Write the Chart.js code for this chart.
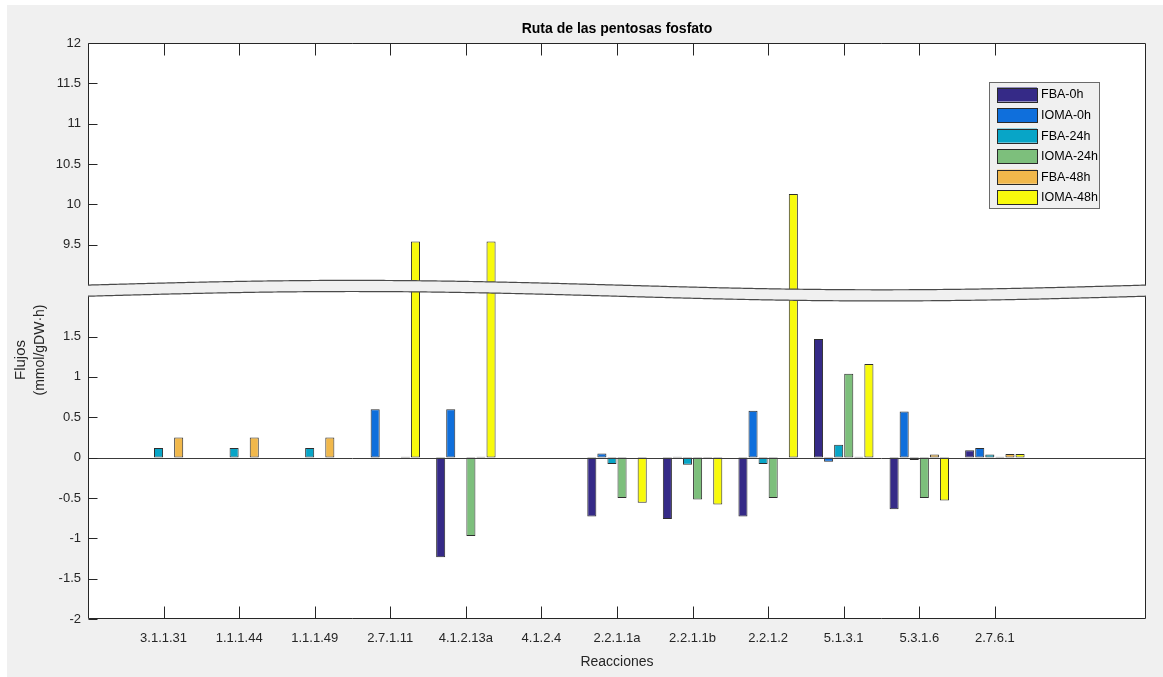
<!DOCTYPE html>
<html lang="es">
<head>
<meta charset="utf-8">
<title>Ruta de las pentosas fosfato</title>
<script src="https://cdn.jsdelivr.net/npm/chart.js@4.4.1/dist/chart.umd.min.js"></script>
<style>
  html, body { margin: 0; padding: 0; background: #ffffff; }
  #grafico { display: block; }
</style>
</head>
<body>
<canvas id="grafico" width="1163" height="677"></canvas>
<script>
// Reacciones de la ruta de las pentosas fosfato
const reacciones = ['3.1.1.31', '1.1.1.44', '1.1.1.49', '2.7.1.11', '4.1.2.13a', '4.1.2.4',
                    '2.2.1.1a', '2.2.1.1b', '2.2.1.2', '5.1.3.1', '5.3.1.6', '2.7.6.1'];

// Flujos (mmol/gDW·h) por condición
const fba0h   = [0, 0, 0, 0, -1.235, 0, -0.73, -0.76, -0.73, 1.47, -0.64, 0.09];
const ioma0h  = [0, 0, 0, 0.6, 0.6, 0, 0.05, 0.01, 0.58, -0.05, 0.57, 0.12];
const fba24h  = [0.12, 0.12, 0.12, 0, 0, 0, -0.08, -0.09, -0.08, 0.16, -0.03, 0.04];
const ioma24h = [0, 0, 0, 0, -0.97, 0, -0.5, -0.52, -0.5, 1.04, -0.5, 0.01];
const fba48h  = [0.25, 0.25, 0.25, 0.01, 0.01, 0, 0, -0.01, 0, 0.01, 0.04, 0.045];
const ioma48h = [0, 0, 0, 9.54, 9.54, 0, -0.56, -0.58, 10.13, 1.16, -0.53, 0.045];

const series = ['FBA-0h', 'IOMA-0h', 'FBA-24h', 'IOMA-24h', 'FBA-48h', 'IOMA-48h'];
const colores = ['#352a87', '#0f6fdc', '#08a5c7', '#7dbf7c', '#f1b84b', '#f8fa0c'];

// Marcas del eje Y: tramo inferior y tramo superior (eje cortado)
const marcasInferiores = [-2, -1.5, -1, -0.5, 0, 0.5, 1, 1.5];
const marcasSuperiores = [9.5, 10, 10.5, 11, 11.5, 12];

// Corte del eje: el tramo inferior llega a 2 y el superior empieza en 9
const CORTE_INF = 2.0;
const CORTE_SUP = 9.0;
const DESPLAZ = 6.862;           // desplazamiento aplicado al tramo superior
const Y_MIN = -2;
const Y_MAX = 12;

function aEje(v) {
  if (v === null) return null;
  return v > CORTE_INF ? v - DESPLAZ : v;
}
function deEje(m) {
  return m > CORTE_INF + 0.05 ? m + DESPLAZ : m;
}
function formatear(v) {
  const r = Math.round(v * 10) / 10;
  return String(r);
}

const FUENTE = "'Liberation Sans', Arial, Helvetica, sans-serif";
const TEXTO = '#262626';

// Posiciones de categoría: hueco a la izquierda (0) y a la derecha (13, 14)
const etiquetasX = [''].concat(reacciones, ['', '']);
const valoresSerie = [fba0h, ioma0h, fba24h, ioma24h, fba48h, ioma48h];

const datasets = series.map((nombre, i) => ({
  label: nombre,
  data: [null].concat(valoresSerie[i].map(aEje), [null, null]),
  backgroundColor: colores[i],
  borderColor: '#2e2e2e',
  borderWidth: 1,
  borderSkipped: false,
  categoryPercentage: 0.8,
  barPercentage: 0.9
}));

// Fondo, línea base, corte del eje, marco, leyenda y títulos
const decoracion = {
  id: 'decoracion',
  beforeDraw(chart) {
    const { ctx, width, height, chartArea: a } = chart;
    ctx.save();
    ctx.fillStyle = '#ffffff';
    ctx.fillRect(0, 0, width, height);
    ctx.fillStyle = '#f0f0f0';
    ctx.fillRect(7, 5, width - 7, height - 5);
    ctx.fillStyle = '#ffffff';
    ctx.fillRect(a.left, a.top, a.right - a.left, a.bottom - a.top);
    ctx.restore();
  },
  afterDatasetsDraw(chart) {
    const { ctx, chartArea: a, scales } = chart;
    const ys = scales.y, xs = scales.x;
    ctx.save();

    // línea base en cero
    const y0 = Math.round(ys.getPixelForValue(0)) + 0.5;
    ctx.strokeStyle = '#3a3a3a';
    ctx.lineWidth = 1;
    ctx.beginPath();
    ctx.moveTo(a.left, y0);
    ctx.lineTo(a.right, y0);
    ctx.stroke();

    // marco de los ejes
    const L = Math.round(a.left) + 0.5, R = Math.round(a.right) - 0.5;
    const T = Math.round(a.top) + 0.5, B = Math.round(a.bottom) - 0.5;
    ctx.strokeStyle = TEXTO;
    ctx.beginPath();
    ctx.moveTo(L, T); ctx.lineTo(R, T); ctx.lineTo(R, B); ctx.lineTo(L, B); ctx.closePath();
    ctx.stroke();

    // marcas del eje X (abajo y arriba, hacia dentro)
    ctx.beginPath();
    for (let i = 1; i <= reacciones.length; i++) {
      const x = Math.round(xs.getPixelForValue(i)) + 0.5;
      ctx.moveTo(x, B); ctx.lineTo(x, B - 12);
      ctx.moveTo(x, T); ctx.lineTo(x, T + 12);
    }
    // marcas del eje Y (izquierda, hacia dentro)
    ys.ticks.forEach(t => {
      const y = Math.round(ys.getPixelForValue(t.value)) + 0.5;
      ctx.moveTo(L, y); ctx.lineTo(L + 9, y);
    });
    ctx.stroke();

    // franja ondulada del corte del eje
    const ySup = ys.getPixelForValue(CORTE_SUP - DESPLAZ);
    const yInf = ys.getPixelForValue(CORTE_INF);
    const AMP = 4.7;
    const onda = x => -AMP * Math.sin(2 * Math.PI * (x - a.left) / (a.right - a.left));
    const x0 = a.left - 1.5, x1 = a.right + 1.5;
    ctx.beginPath();
    for (let x = x0; x <= x1; x += 2) ctx.lineTo(x, ySup + onda(x));
    ctx.lineTo(x1, ySup + onda(x1));
    for (let x = x1; x >= x0; x -= 2) ctx.lineTo(x, yInf + onda(x));
    ctx.lineTo(x0, yInf + onda(x0));
    ctx.closePath();
    ctx.fillStyle = '#f0f0f0';
    ctx.fill();
    ctx.strokeStyle = '#4a4a4a';
    ctx.lineWidth = 1.2;
    [ySup, yInf].forEach(yb => {
      ctx.beginPath();
      for (let x = a.left; x <= a.right; x += 2) ctx.lineTo(x, yb + onda(x));
      ctx.lineTo(a.right, yb + onda(a.right));
      ctx.stroke();
    });

    // leyenda
    const lx = a.right - 157, ly = a.top + 39, lw = 110, lh = 126;
    ctx.fillStyle = '#f0f0f0';
    ctx.fillRect(lx, ly, lw, lh);
    ctx.strokeStyle = '#6a6a6a';
    ctx.lineWidth = 1;
    ctx.strokeRect(lx + 0.5, ly + 0.5, lw, lh);
    ctx.font = '12.5px ' + FUENTE;
    ctx.textBaseline = 'middle';
    ctx.textAlign = 'left';
    series.forEach((nombre, i) => {
      const sy = ly + 5.5 + i * 20.55;
      ctx.fillStyle = colores[i];
      ctx.fillRect(lx + 8, sy, 40, 14);
      ctx.strokeStyle = '#2a2a2a';
      ctx.strokeRect(lx + 8.5, Math.round(sy) + 0.5, 40, 14);
      ctx.fillStyle = '#000000';
      ctx.fillText(nombre, lx + 52, sy + 7.5);
    });

    // título
    const cx = (a.left + a.right) / 2;
    ctx.fillStyle = '#000000';
    ctx.textAlign = 'center';
    ctx.font = 'bold 14px ' + FUENTE;
    ctx.fillText('Ruta de las pentosas fosfato', cx, 29);

    // título del eje X
    ctx.fillStyle = TEXTO;
    ctx.font = '14px ' + FUENTE;
    ctx.fillText('Reacciones', cx, 662);

    // título del eje Y (dos líneas)
    ctx.save();
    ctx.translate(21, 360);
    ctx.rotate(-Math.PI / 2);
    ctx.font = '15px ' + FUENTE;
    ctx.fillText('Flujos', 0, 0);
    ctx.restore();
    ctx.save();
    ctx.translate(40, 350);
    ctx.rotate(-Math.PI / 2);
    ctx.font = '14px ' + FUENTE;
    ctx.fillText('(mmol/gDW\u00b7h)', 0, 0);
    ctx.restore();

    ctx.restore();
  }
};

new Chart(document.getElementById('grafico'), {
  type: 'bar',
  data: { labels: etiquetasX, datasets },
  options: {
    responsive: false,
    animation: false,
    devicePixelRatio: 1,
    layout: { padding: { left: 0, right: 17, top: 43, bottom: 0 } },
    plugins: { legend: { display: false }, tooltip: { enabled: false }, title: { display: false } },
    scales: {
      x: {
        type: 'category',
        offset: false,
        grid: { display: false, drawTicks: false },
        border: { display: false },
        ticks: {
          autoSkip: false, maxRotation: 0, minRotation: 0, padding: 12,
          color: TEXTO, font: { family: FUENTE, size: 13 }
        },
        afterFit: s => { s.height = 58; }
      },
      y: {
        type: 'linear',
        min: Y_MIN,
        max: Y_MAX - DESPLAZ,
        grid: { display: false, drawTicks: false },
        border: { display: false },
        afterBuildTicks: s => {
          s.ticks = marcasInferiores.concat(marcasSuperiores).map(v => ({ value: aEje(v) }));
        },
        ticks: {
          autoSkip: false, padding: 7,
          color: TEXTO, font: { family: FUENTE, size: 13 },
          callback: v => formatear(deEje(v))
        },
        afterFit: s => { s.width = 88; }
      }
    }
  },
  plugins: [decoracion]
});
</script>
</body>
</html>
